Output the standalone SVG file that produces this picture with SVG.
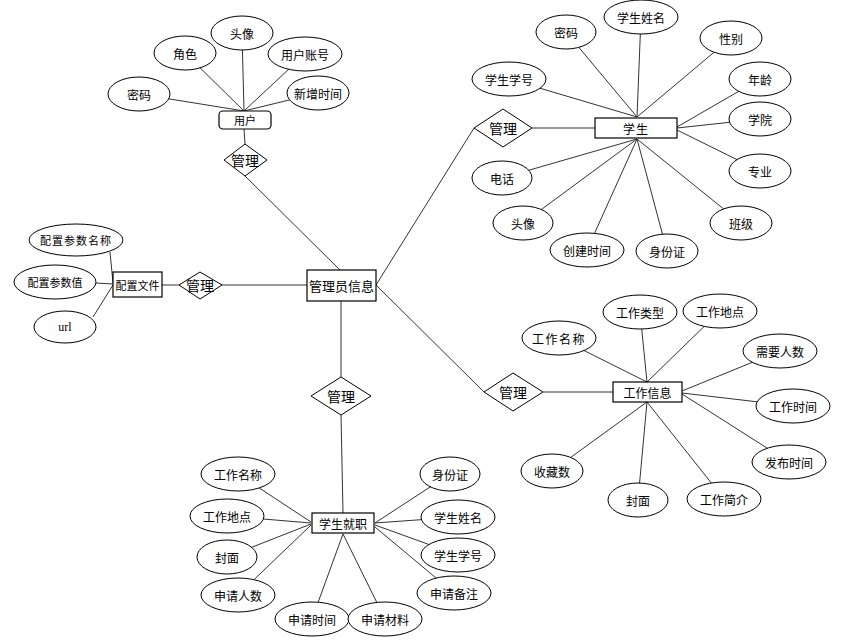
<svg xmlns="http://www.w3.org/2000/svg" width="861" height="641" viewBox="0 0 861 641">
<style>
text{font-family:"Noto Sans CJK SC","Noto Sans",sans-serif;font-size:12px;fill:#000;text-anchor:middle;dominant-baseline:central}
.a ellipse{fill:#fff;stroke:#000;stroke-width:1}
.e rect{fill:#fff;stroke:#000;stroke-width:1.2}
.r polygon{fill:#fff;stroke:#000;stroke-width:1}
.r text{font-size:14px}
#conn line{stroke:#333;stroke-width:1}
</style>
<rect width="861" height="641" fill="#fff"/>
<g id="conn">
<!-- user -->
<line x1="139" y1="94" x2="244" y2="111"/>
<line x1="185" y1="53" x2="244" y2="111"/>
<line x1="242" y1="33" x2="244" y2="111"/>
<line x1="305" y1="54" x2="244" y2="111"/>
<line x1="318" y1="93" x2="244" y2="111"/>
<line x1="244" y1="129" x2="245" y2="144"/>
<line x1="245" y1="176" x2="340" y2="270"/>
<!-- config -->
<line x1="110" y1="252" x2="113" y2="283"/>
<line x1="96" y1="283" x2="113" y2="284"/>
<line x1="93" y1="317" x2="113" y2="285"/>
<line x1="162" y1="285" x2="179" y2="285"/>
<line x1="222" y1="285" x2="307" y2="285"/>
<!-- admin to others -->
<line x1="376" y1="285" x2="474" y2="128"/>
<line x1="376" y1="285" x2="484" y2="392"/>
<line x1="341" y1="301" x2="341" y2="377"/>
<!-- student -->
<line x1="532" y1="128" x2="595" y2="128"/>
<line x1="509" y1="79" x2="637" y2="117"/>
<line x1="566" y1="32" x2="637" y2="117"/>
<line x1="641" y1="17" x2="637" y2="117"/>
<line x1="731" y1="38" x2="637" y2="117"/>
<line x1="760" y1="79" x2="677" y2="127"/>
<line x1="760" y1="119" x2="677" y2="128"/>
<line x1="760" y1="171" x2="677" y2="130"/>
<line x1="741" y1="223" x2="637" y2="139"/>
<line x1="667" y1="251" x2="637" y2="139"/>
<line x1="587" y1="250" x2="637" y2="139"/>
<line x1="523" y1="223" x2="637" y2="139"/>
<line x1="502" y1="178" x2="637" y2="139"/>
<!-- job info -->
<line x1="543" y1="392" x2="613" y2="392"/>
<line x1="559" y1="338" x2="647" y2="382"/>
<line x1="640" y1="312" x2="647" y2="382"/>
<line x1="720" y1="311" x2="647" y2="382"/>
<line x1="780" y1="351" x2="682" y2="391"/>
<line x1="793" y1="406" x2="682" y2="393"/>
<line x1="789" y1="462" x2="682" y2="394"/>
<line x1="724" y1="499" x2="647" y2="402"/>
<line x1="638" y1="500" x2="647" y2="402"/>
<line x1="552" y1="471" x2="647" y2="402"/>
<!-- employment -->
<line x1="341" y1="415" x2="343" y2="513"/>
<line x1="238" y1="474" x2="311" y2="522"/>
<line x1="227" y1="516" x2="311" y2="523"/>
<line x1="227" y1="557" x2="311" y2="524"/>
<line x1="238" y1="595" x2="311" y2="525"/>
<line x1="312" y1="619" x2="343" y2="534"/>
<line x1="385" y1="619" x2="343" y2="534"/>
<line x1="450" y1="474" x2="375" y2="523"/>
<line x1="458" y1="517" x2="375" y2="523"/>
<line x1="458" y1="555" x2="375" y2="525"/>
<line x1="454" y1="593" x2="375" y2="527"/>
</g>

<!-- entities -->
<g id="user" class="e"><rect x="219" y="111" width="52" height="18" rx="4"/><text x="245" y="120" style="font-size:11px">用户</text></g>
<g id="admin" class="e"><rect x="307" y="270" width="69" height="31"/><text x="341.5" y="285.5" style="font-size:13px">管理员信息</text></g>
<g id="config" class="e"><rect x="113" y="272" width="49" height="25"/><text x="137.5" y="284.5" style="font-size:11px">配置文件</text></g>
<g id="student" class="e"><rect x="595" y="118" width="82" height="20"/><text x="636" y="128" style="font-size:12px;letter-spacing:1px">学生</text></g>
<g id="jobinfo" class="e"><rect x="613" y="382" width="69" height="20"/><text x="647.5" y="392">工作信息</text></g>
<g id="employ" class="e"><rect x="312" y="513" width="62" height="20"/><text x="343" y="523">学生就职</text></g>

<!-- relations -->
<g id="rel-user" class="r"><polygon points="245,144 267,160 245,176 224,160"/><text x="245" y="160">管理</text></g>
<g id="rel-config" class="r"><polygon points="200,272 222,285 200,299 179,285"/><text x="200" y="285">管理</text></g>
<g id="rel-student" class="r"><polygon points="503,109 532,128 503,147 474,128"/><text x="503" y="128">管理</text></g>
<g id="rel-job" class="r"><polygon points="513,373 543,392 513,411 484,392"/><text x="513" y="392">管理</text></g>
<g id="rel-employ" class="r"><polygon points="341,377 371,396 341,415 311,396"/><text x="341" y="396">管理</text></g>

<!-- user attrs -->
<g id="u-attrs" class="a">
<g id="u-pwd"><ellipse cx="139" cy="94" rx="31" ry="17"/><text x="139" y="94">密码</text></g>
<g id="u-role"><ellipse cx="185" cy="53" rx="31" ry="17"/><text x="185" y="53">角色</text></g>
<g id="u-avatar"><ellipse cx="242" cy="33" rx="31" ry="17"/><text x="242" y="33">头像</text></g>
<g id="u-acct"><ellipse cx="305" cy="54" rx="37" ry="17"/><text x="305" y="54">用户账号</text></g>
<g id="u-time"><ellipse cx="318" cy="93" rx="31" ry="17"/><text x="318" y="93">新增时间</text></g>
</g>

<!-- config attrs -->
<g id="c-attrs" class="a">
<g id="c-name"><ellipse cx="76" cy="240" rx="47" ry="16"/><text x="76" y="240" style="font-size:11px;letter-spacing:1px">配置参数名称</text></g>
<g id="c-val"><ellipse cx="55" cy="282" rx="41" ry="17"/><text x="55" y="282" style="font-size:11px">配置参数值</text></g>
<g id="c-url"><ellipse cx="65" cy="327" rx="31" ry="16"/><text x="65" y="327" style="font-family:'Liberation Serif',serif;font-size:12px">url</text></g>
</g>

<!-- student attrs -->
<g id="s-attrs" class="a">
<g id="s-no"><ellipse cx="509" cy="79" rx="37" ry="17"/><text x="509" y="79">学生学号</text></g>
<g id="s-pwd"><ellipse cx="566" cy="32" rx="30" ry="17"/><text x="566" y="32">密码</text></g>
<g id="s-name"><ellipse cx="641" cy="17" rx="37" ry="17"/><text x="641" y="17">学生姓名</text></g>
<g id="s-sex"><ellipse cx="731" cy="38" rx="31" ry="17"/><text x="731" y="38">性别</text></g>
<g id="s-age"><ellipse cx="760" cy="79" rx="31" ry="17"/><text x="760" y="79">年龄</text></g>
<g id="s-col"><ellipse cx="760" cy="119" rx="31" ry="17"/><text x="760" y="119">学院</text></g>
<g id="s-major"><ellipse cx="760" cy="171" rx="31" ry="17"/><text x="760" y="171">专业</text></g>
<g id="s-class"><ellipse cx="741" cy="223" rx="31" ry="17"/><text x="741" y="223">班级</text></g>
<g id="s-id"><ellipse cx="667" cy="251" rx="31" ry="17"/><text x="667" y="251">身份证</text></g>
<g id="s-ctime"><ellipse cx="587" cy="250" rx="37" ry="17"/><text x="587" y="250">创建时间</text></g>
<g id="s-avatar"><ellipse cx="523" cy="223" rx="30" ry="17"/><text x="523" y="223">头像</text></g>
<g id="s-tel"><ellipse cx="502" cy="178" rx="30" ry="17"/><text x="502" y="178">电话</text></g>
</g>

<!-- job attrs -->
<g id="j-attrs" class="a">
<g id="j-name"><ellipse cx="559" cy="338" rx="37" ry="17"/><text x="559" y="338" style="letter-spacing:1.5px">工作名称</text></g>
<g id="j-type"><ellipse cx="640" cy="312" rx="37" ry="17"/><text x="640" y="312">工作类型</text></g>
<g id="j-loc"><ellipse cx="720" cy="311" rx="37" ry="17"/><text x="720" y="311">工作地点</text></g>
<g id="j-need"><ellipse cx="780" cy="351" rx="37" ry="17"/><text x="780" y="351">需要人数</text></g>
<g id="j-time"><ellipse cx="793" cy="406" rx="37" ry="17"/><text x="793" y="406">工作时间</text></g>
<g id="j-pub"><ellipse cx="789" cy="462" rx="37" ry="17"/><text x="789" y="462">发布时间</text></g>
<g id="j-intro"><ellipse cx="724" cy="499" rx="37" ry="17"/><text x="724" y="499">工作简介</text></g>
<g id="j-cover"><ellipse cx="638" cy="500" rx="30" ry="17"/><text x="638" y="500">封面</text></g>
<g id="j-fav"><ellipse cx="552" cy="471" rx="31" ry="17"/><text x="552" y="471">收藏数</text></g>
</g>

<!-- employment attrs -->
<g id="e-attrs" class="a">
<g id="e-jname"><ellipse cx="238" cy="474" rx="37" ry="17"/><text x="238" y="474">工作名称</text></g>
<g id="e-loc"><ellipse cx="227" cy="516" rx="37" ry="17"/><text x="227" y="516">工作地点</text></g>
<g id="e-cover"><ellipse cx="227" cy="557" rx="30" ry="17"/><text x="227" y="557">封面</text></g>
<g id="e-num"><ellipse cx="238" cy="595" rx="37" ry="17"/><text x="238" y="595">申请人数</text></g>
<g id="e-atime"><ellipse cx="312" cy="619" rx="37" ry="17"/><text x="312" y="619">申请时间</text></g>
<g id="e-mat"><ellipse cx="385" cy="619" rx="37" ry="17"/><text x="385" y="619">申请材料</text></g>
<g id="e-id"><ellipse cx="450" cy="474" rx="30" ry="17"/><text x="450" y="474">身份证</text></g>
<g id="e-sname"><ellipse cx="458" cy="517" rx="37" ry="17"/><text x="458" y="517">学生姓名</text></g>
<g id="e-sno"><ellipse cx="458" cy="555" rx="37" ry="17"/><text x="458" y="555">学生学号</text></g>
<g id="e-note"><ellipse cx="454" cy="593" rx="37" ry="17"/><text x="454" y="593">申请备注</text></g>
</g>
</svg>
